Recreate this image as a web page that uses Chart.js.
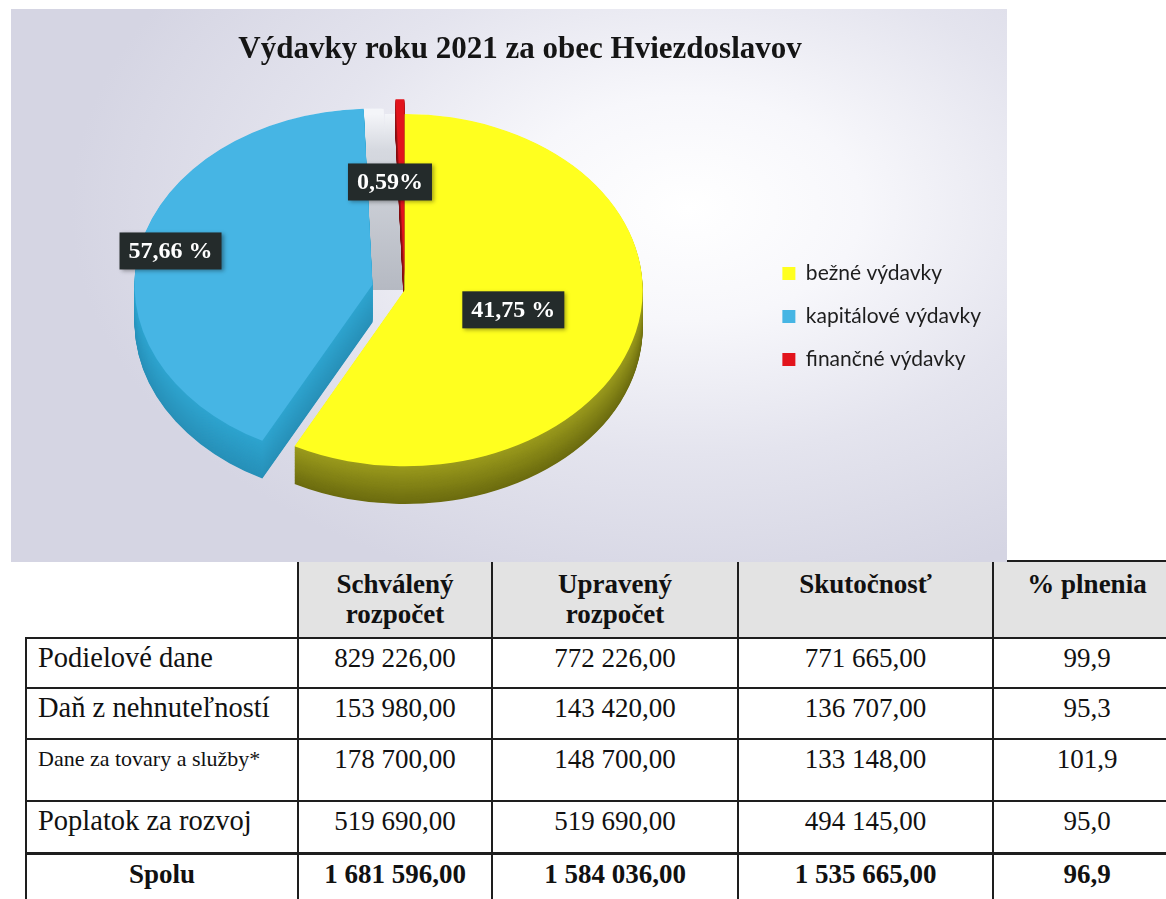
<!DOCTYPE html>
<html lang="sk">
<head>
<meta charset="utf-8">
<title>Výdavky roku 2021 za obec Hviezdoslavov</title>
<script src="https://cdn.jsdelivr.net/npm/chart.js@4.4.1/dist/chart.umd.min.js"></script>
<style>
  html, body { margin: 0; padding: 0; background: #ffffff; overflow: hidden; }
  body { width: 1166px; height: 899px; position: relative; }
  #chartBox {
    position: absolute; left: 11px; top: 9px; width: 996px; height: 553px; z-index: 2;
    background: radial-gradient(ellipse 62% 72% at 68% 36%, #ffffff 0%, #f7f7fb 28%, #e4e4ee 62%, #d5d5e3 100%);
  }
  #budget {
    position: absolute; left: 25px; top: 560px; width: 1155px;
    border-collapse: collapse; table-layout: fixed;
    font-family: "Liberation Serif", "Times New Roman", serif; color: #111;
  }
  #budget th, #budget td {
    border: 2px solid #1e1e1e; padding: 4px 4px 0; vertical-align: top;
    font-size: 27px; line-height: 30px; text-align: center; font-weight: normal;
  }
  #budget thead tr { height: 77px; }
  #budget thead th { background: #e3e3e3; font-weight: bold; padding-top: 7px; }
  #budget thead th.blank { background: #fff; border-top: none; border-left: none; }
  #budget td.name { text-align: left; padding-left: 11px; font-size: 28.5px; }
  #budget td.name.small { font-size: 22px; }
  #budget tbody tr:nth-child(1) { height: 50px; }
  #budget tbody tr:nth-child(2) { height: 51px; }
  #budget tbody tr:nth-child(3) { height: 62px; }
  #budget tbody tr:nth-child(4) { height: 52px; }
  #budget tbody tr:nth-child(5) { height: 50px; }
  #budget tr.total td { font-weight: bold; border-top-width: 3px; }
  #budget tr.total td.name { text-align: center; padding-left: 4px; font-size: 27px; }
</style>
</head>
<body>
<div id="chartBox"><canvas id="pie" width="996" height="553"></canvas></div>
<table id="budget">
  <colgroup>
    <col style="width:272px"><col style="width:194px"><col style="width:246px"><col style="width:255px"><col style="width:188px">
  </colgroup>
  <thead></thead>
  <tbody></tbody>
</table>
<script>
// pie: slice sizes as drawn; the printed labels on the original have yellow/blue swapped
const categories = ['bežné výdavky', 'kapitálové výdavky', 'finančné výdavky'];
const shares = [57.66, 41.75, 0.59];
const printedLabels = ['41,75 %', '57,66 %', '0,59%'];

// table
const columnHeads = [['Schválený', 'rozpočet'], ['Upravený', 'rozpočet'], ['Skutočnosť'], ['% plnenia']];
const rowNames = ['Podielové dane', 'Daň z nehnuteľností', 'Dane za tovary a služby*', 'Poplatok za rozvoj'];
const approvedBudget = ['829 226,00', '153 980,00', '178 700,00', '519 690,00'];
const adjustedBudget = ['772 226,00', '143 420,00', '148 700,00', '519 690,00'];
const actualSpend = ['771 665,00', '136 707,00', '133 148,00', '494 145,00'];
const fulfilment = ['99,9', '95,3', '101,9', '95,0'];
const totals = ['Spolu', '1 681 596,00', '1 584 036,00', '1 535 665,00', '96,9'];

// look of the fake 3d pie
const faceColors = ['#ffff1f', '#46b5e4', '#e2141c'];
const sideColors = [['#9b9b1d', '#6b6b0f'], ['#2ea4cf', '#2790b8'], ['#a3171a', '#7a0d10']];
const TILT = 0.74;     // vertical squash of the top face
const DEPTH = 38;      // screen height of the side wall
const WALL = 20;       // width of the grey inner walls in the gap
const explode = [0, 33, 20];
const labelRadius = [0.47, 0.87, 0.53];
const labelShift = [0, 0, -12];

const LEGEND_FONT = 21, LEGEND_BOX = 13, LEGEND_PAD = 22;
const PIE_RIGHT = 748;  // where the chart area should end (legend starts there)

const mix = (a, b, t) => {
    const pa = parseInt(a.slice(1), 16), pb = parseInt(b.slice(1), 16);
    const ch = s => Math.round(((pa >> s) & 255) * (1 - t) + ((pb >> s) & 255) * t);
    return `rgb(${ch(16)},${ch(8)},${ch(0)})`;
};

// legend width as chart.js will fit it, so the right padding leaves the pie where it belongs
const measure = document.createElement('canvas').getContext('2d');
measure.font = `${LEGEND_FONT}px Lato`;
const longest = Math.max(...categories.map(c => measure.measureText(c).width));
const legendWidth = LEGEND_PAD + LEGEND_BOX + LEGEND_FONT / 2 + longest + 10;
const rightPad = Math.max(0, 996 - PIE_RIGHT - Math.ceil(legendWidth) - 1);

// draws the arcs through their own draw() with a squash + extrusion
const pie3d = {
    id: 'pie3d',
    beforeDatasetsDraw(chart) {
        const ctx = chart.ctx;
        const arcs = chart.getDatasetMeta(0).data;
        const cy = arcs[0].y;

        const ghost = (arc, i, dx, dy, opts) => {
            const g = Object.create(arc);
            const mid = (arc.startAngle + arc.endAngle) / 2;
            g.x = arc.x + Math.cos(mid) * explode[i] + dx;
            g.y = arc.y + Math.sin(mid) * explode[i] + dy;
            g.options = Object.assign({}, arc.options, opts);
            return g;
        };

        ctx.save();
        ctx.translate(0, cy);
        ctx.scale(1, TILT);
        ctx.translate(0, -cy);

        // grey inner walls showing between the exploded slices at 12 o'clock
        ctx.save();
        ctx.beginPath();
        ctx.rect(0, cy - 1000, chart.width, 1000);
        ctx.clip();
        const wallFill = ctx.createLinearGradient(0, cy - arcs[0].outerRadius, 0, cy);
        wallFill.addColorStop(0, '#f4f5f9');
        wallFill.addColorStop(0.2, '#d6d9e0');
        wallFill.addColorStop(1, '#b5b9c2');
        for (let s = WALL; s >= 1; s--) {
            ghost(arcs[1], 1, s, 0, { backgroundColor: wallFill, borderWidth: 0 }).draw(ctx);
            ghost(arcs[0], 0, -s, 0, { backgroundColor: wallFill, borderWidth: 0 }).draw(ctx);
        }
        ctx.restore();

        const steps = Math.round(DEPTH / TILT);
        for (let d = steps; d >= 1; d--) {
            arcs.forEach((arc, i) => {
                const col = mix(sideColors[i][0], sideColors[i][1], d / steps);
                ghost(arc, i, 0, d, { backgroundColor: col, borderWidth: 0 }).draw(ctx);
            });
        }
        arcs.forEach((arc, i) => ghost(arc, i, 0, 0, {}).draw(ctx));

        ctx.restore();
        return false;
    },
    afterDraw(chart) {
        const ctx = chart.ctx;
        const arcs = chart.getDatasetMeta(0).data;
        ctx.save();
        ctx.font = 'bold 24px "Liberation Serif", serif';
        ctx.textAlign = 'center';
        ctx.textBaseline = 'middle';
        arcs.forEach((arc, i) => {
            const mid = (arc.startAngle + arc.endAngle) / 2;
            const r = explode[i] + labelRadius[i] * arc.outerRadius;
            const lx = arc.x + Math.cos(mid) * r + labelShift[i];
            const ly = arc.y + Math.sin(mid) * r * TILT;
            const w = ctx.measureText(printedLabels[i]).width + 18;
            const h = 37;
            ctx.shadowColor = 'rgba(0,0,0,0.35)';
            ctx.shadowBlur = 4;
            ctx.shadowOffsetX = 2;
            ctx.shadowOffsetY = 2;
            ctx.fillStyle = '#242b2b';
            ctx.fillRect(lx - w / 2, ly - h / 2, w, h);
            ctx.shadowColor = 'transparent';
            ctx.fillStyle = '#ffffff';
            ctx.fillText(printedLabels[i], lx, ly + 1);
        });
        ctx.restore();
    }
};

new Chart(document.getElementById('pie'), {
    type: 'pie',
    data: {
        labels: categories,
        datasets: [{
            data: shares,
            backgroundColor: faceColors,
            borderWidth: 0,
            radius: 238
        }]
    },
    plugins: [pie3d],
    options: {
        responsive: false,
        animation: false,
        events: [],
        layout: { padding: { left: 38, right: rightPad, top: 0, bottom: 60 } },
        plugins: {
            title: {
                display: true,
                text: 'Výdavky roku 2021 za obec Hviezdoslavov',
                color: '#151515',
                font: { family: '"Liberation Serif", serif', size: 31, weight: 'bold' },
                padding: { top: 22, bottom: 10 }
            },
            legend: {
                position: 'right',
                // invisible title only pushes the items down
                title: { display: true, text: 'x', color: 'rgba(0,0,0,0)', padding: { top: 55, bottom: 55 }, font: { size: 10 } },
                labels: {
                    boxWidth: LEGEND_BOX,
                    boxHeight: LEGEND_BOX,
                    padding: LEGEND_PAD,
                    color: '#1d1d1d',
                    font: { family: 'Lato', size: LEGEND_FONT }
                }
            },
            tooltip: { enabled: false }
        }
    }
});

// table below the chart
const thead = document.querySelector('#budget thead');
const tbody = document.querySelector('#budget tbody');
thead.innerHTML = '<tr><th class="blank"></th>' +
    columnHeads.map(lines => `<th>${lines.join('<br>')}</th>`).join('') + '</tr>';

rowNames.forEach((name, i) => {
    const cls = name.length > 20 ? 'name small' : 'name';
    tbody.insertAdjacentHTML('beforeend',
        `<tr><td class="${cls}">${name}</td><td>${approvedBudget[i]}</td><td>${adjustedBudget[i]}</td>` +
        `<td>${actualSpend[i]}</td><td>${fulfilment[i]}</td></tr>`);
});
tbody.insertAdjacentHTML('beforeend',
    '<tr class="total">' + totals.map((t, i) => `<td${i === 0 ? ' class="name"' : ''}>${t}</td>`).join('') + '</tr>');
</script>
</body>
</html>
